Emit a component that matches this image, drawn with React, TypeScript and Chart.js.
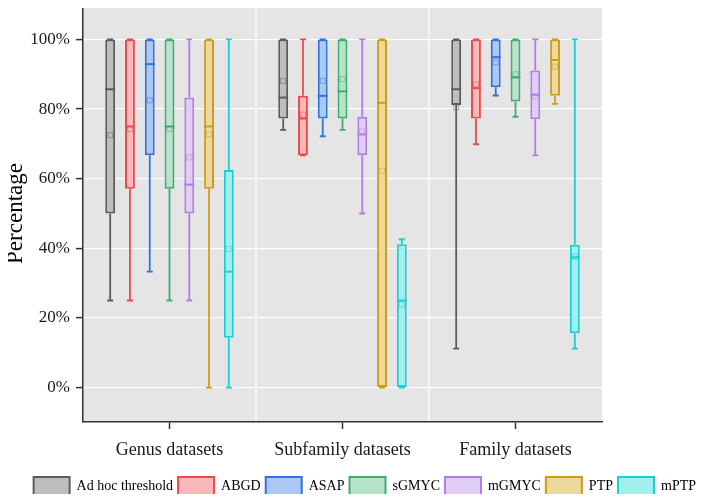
import { useEffect, useRef } from 'react';
import { Chart, registerables } from 'chart.js';

Chart.register(...registerables);

const categories = ['Genus datasets', 'Subfamily datasets', 'Family datasets'];
const methods = ['Ad hoc threshold', 'ABGD', 'ASAP', 'sGMYC', 'mGMYC', 'PTP', 'mPTP'];

// values per method, per category [Genus, Subfamily, Family] (percent)
const whiskerLow = [
  [25, 74.0, 11.2],
  [25, 66.7, 69.9],
  [33.3, 72.2, 83.9],
  [25, 74.0, 77.8],
  [25, 50, 66.7],
  [0, 0, 81.5],
  [0, 0, 11.2],
];
const quartile1 = [
  [50, 77.3, 81.2],
  [57.1, 66.7, 77.3],
  [66.7, 77.3, 86.3],
  [57.1, 77.3, 82.2],
  [50, 66.7, 77.1],
  [57.1, 0, 83.8],
  [14.3, 0, 15.6],
];
const medians = [
  [85.7, 83.3, 85.7],
  [75, 77.3, 86.0],
  [92.9, 83.8, 94.9],
  [75, 85.1, 89.1],
  [58.3, 72.7, 84.1],
  [75, 81.8, 94.1],
  [33.3, 25, 37.4],
];
const quartile3 = [
  [100, 100, 100],
  [100, 83.8, 100],
  [100, 100, 100],
  [100, 100, 100],
  [83.3, 77.8, 91.1],
  [100, 100, 100],
  [62.5, 41.2, 41.0],
];
const whiskerHigh = [
  [100, 100, 100],
  [100, 100, 100],
  [100, 100, 100],
  [100, 100, 100],
  [100, 100, 100],
  [100, 100, 100],
  [100, 42.6, 100],
];
const means = [
  [72.5, 88.1, 80.5],
  [74.3, 78.4, 87.1],
  [82.5, 88.1, 93.4],
  [74.3, 88.6, 90.0],
  [66.1, 73.6, 83.6],
  [72.8, 62.3, 92.2],
  [39.8, 23.9, 37.6],
];
const yTickValues = [0, 20, 40, 60, 80, 100];

const strokeColors = ['#5c5c5c', '#ef4a4b', '#2f73de', '#3dae6e', '#b07fe3', '#cf9d15', '#1ccfd2'];
const fillColors = ['#bebebe', '#f9b9ba', '#adc8f2', '#b7e2cb', '#e2cdf5', '#edd89f', '#a4eeee'];
const meanColors = ['rgba(92,92,92,0.5)', 'rgba(239,74,75,0.5)', 'rgba(47,115,222,0.5)', 'rgba(61,174,110,0.5)', 'rgba(176,127,227,0.5)', 'rgba(207,157,21,0.5)', 'rgba(28,207,210,0.5)'];

const FONT = "'Liberation Serif', 'Times New Roman', serif";

const boxPlotPlugin = {
  id: 'boxPlot',
  beforeDraw(chart: any) {
    const { ctx, chartArea } = chart;
    ctx.save();
    ctx.fillStyle = '#e5e5e5';
    ctx.fillRect(chartArea.left, chartArea.top, chartArea.right - chartArea.left, chartArea.bottom - chartArea.top);
    ctx.restore();
  },
  beforeDatasetsDraw(chart: any) {
    const { ctx, chartArea } = chart;
    const xs = chart.scales.x;
    const ys = chart.scales.y;
    ctx.save();
    ctx.strokeStyle = '#ffffff';
    ctx.lineWidth = 1.2;
    for (let i = 0; i < categories.length - 1; i++) {
      const bx = (xs.getPixelForValue(i) + xs.getPixelForValue(i + 1)) / 2;
      ctx.beginPath();
      ctx.moveTo(bx, chartArea.top);
      ctx.lineTo(bx, chartArea.bottom - 1);
      ctx.stroke();
    }
    chart.data.datasets.forEach((_: any, di: number) => {
      const meta = chart.getDatasetMeta(di);
      ctx.strokeStyle = strokeColors[di];
      ctx.lineWidth = 1.8;
      meta.data.forEach((el: any, ci: number) => {
        const x = el.x;
        const yLo = ys.getPixelForValue(whiskerLow[di][ci]);
        const yQ1 = ys.getPixelForValue(quartile1[di][ci]);
        const yQ3 = ys.getPixelForValue(quartile3[di][ci]);
        const yHi = ys.getPixelForValue(whiskerHigh[di][ci]);
        ctx.beginPath();
        ctx.moveTo(x, yHi);
        ctx.lineTo(x, yQ3);
        ctx.moveTo(x, yQ1);
        ctx.lineTo(x, yLo);
        ctx.moveTo(x - 3, yHi);
        ctx.lineTo(x + 3, yHi);
        ctx.moveTo(x - 3, yLo);
        ctx.lineTo(x + 3, yLo);
        ctx.stroke();
      });
    });
    ctx.restore();
  },
  afterDatasetsDraw(chart: any) {
    const { ctx } = chart;
    const ys = chart.scales.y;
    ctx.save();
    chart.data.datasets.forEach((_: any, di: number) => {
      const meta = chart.getDatasetMeta(di);
      meta.data.forEach((el: any, ci: number) => {
        const x = el.x;
        const w = el.width;
        const yMed = ys.getPixelForValue(medians[di][ci]);
        ctx.strokeStyle = strokeColors[di];
        ctx.lineWidth = 2;
        ctx.beginPath();
        ctx.moveTo(x - w / 2, yMed);
        ctx.lineTo(x + w / 2, yMed);
        ctx.stroke();
        const yMean = ys.getPixelForValue(means[di][ci]);
        ctx.strokeStyle = meanColors[di];
        ctx.lineWidth = 1;
        ctx.strokeRect(x - 2.5, yMean - 2.5, 5, 5);
      });
    });
    ctx.restore();
  },
};

export default function App() {
  const canvasRef = useRef<HTMLCanvasElement | null>(null);

  useEffect(() => {
    if (!canvasRef.current) return;
    const datasets = methods.map((name, m) => ({
      label: name,
      data: categories.map((_, c) => [quartile1[m][c], quartile3[m][c]]),
      backgroundColor: fillColors[m],
      borderColor: strokeColors[m],
      borderWidth: 2,
      borderSkipped: false,
      categoryPercentage: 0.8,
      barPercentage: 0.5,
      yAxisID: 'y',
    }));
    const chart = new Chart(canvasRef.current, {
      type: 'bar',
      data: { labels: categories, datasets: datasets as any },
      plugins: [boxPlotPlugin],
      options: {
        responsive: false,
        animation: false,
        layout: { padding: { top: 5, right: 5, bottom: -4, left: 0 } },
        plugins: {
          legend: {
            position: 'bottom',
            align: 'end',
            labels: {
              boxWidth: 36,
              boxHeight: 19,
              padding: 5,
              color: '#000',
              font: { family: FONT, size: 14 },
            },
          },
          tooltip: { enabled: false },
        },
        scales: {
          x: {
            type: 'category',
            offset: true,
            grid: {
              offset: false,
              color: 'rgba(0,0,0,0)',
              tickColor: '#333',
              tickLength: 7,
              tickWidth: 1.5,
            },
            border: { display: true, color: '#333', width: 1.5 },
            ticks: { color: '#1a1a1a', font: { family: FONT, size: 18 }, padding: 10 },
            afterFit: (s: any) => {
              s.height = 50;
              s.paddingLeft = 0;
              s.paddingRight = 0;
            },
          },
          y: {
            type: 'linear',
            position: 'left',
            min: -9.9,
            max: 109.9,
            afterBuildTicks: (s: any) => {
              s.ticks = yTickValues.map((v) => ({ value: v }));
            },
            grid: {
              color: '#ffffff',
              lineWidth: 1.2,
              tickColor: '#333',
              tickLength: 7,
              tickWidth: 1.5,
            },
            border: { display: true, color: '#333', width: 1.5 },
            ticks: {
              color: '#1a1a1a',
              font: { family: FONT, size: 17 },
              padding: 6,
              callback: (v: any) => v + '%',
            },
            title: {
              display: true,
              text: 'Percentage',
              color: '#000',
              font: { family: FONT, size: 23 },
              padding: { top: 2, bottom: 0 },
            },
            afterFit: (s: any) => {
              s.width = 83;
              s.paddingTop = 0;
              s.paddingBottom = 0;
            },
          },
          rightSpace: {
            type: 'linear',
            position: 'right',
            display: true,
            grid: { display: false, drawTicks: false },
            border: { display: false },
            ticks: { display: false },
            afterFit: (s: any) => {
              s.width = 99;
              s.paddingTop = 0;
              s.paddingBottom = 0;
            },
          },
        },
      },
    });
    return () => chart.destroy();
  }, []);

  return (
    <div style={{ width: 706, height: 502, margin: -8, overflow: 'hidden', background: '#fff' }}>
      <canvas ref={canvasRef} width={706} height={502} style={{ display: 'block' }} />
    </div>
  );
}
